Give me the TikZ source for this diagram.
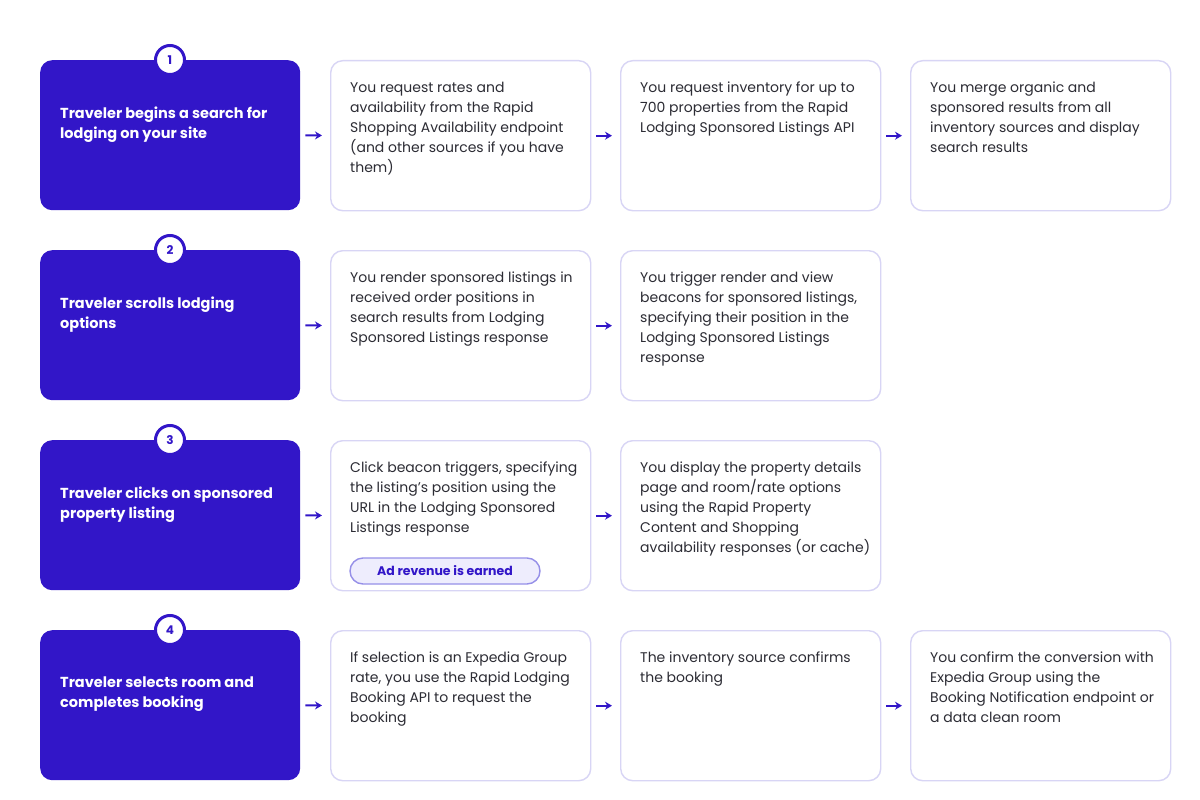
\documentclass[tikz,border=0pt]{standalone}
\usepackage{fontspec}
\setmainfont{Poppins}
\usetikzlibrary{arrows.meta}

\definecolor{indigo}{RGB}{50,22,200}
\definecolor{cardline}{RGB}{216,213,245}
\definecolor{cardink}{RGB}{44,44,52}
\definecolor{pillfill}{RGB}{238,237,253}
\definecolor{pillline}{RGB}{150,144,232}

\tikzstyle{traveler box}=[fill=indigo,rounded corners=12pt,anchor=north west,
    minimum width=260pt,minimum height=150pt,inner sep=0pt]
\tikzstyle{traveler text}=[anchor=north west,align=left,inner sep=0pt,text=white,
    font=\fontsize{14.5}{20}\selectfont\bfseries]
\tikzstyle{action box}=[draw=cardline,line width=1.4pt,fill=white,rounded corners=12pt,
    anchor=north west,minimum width=260pt,minimum height=150pt,inner sep=0pt]
\tikzstyle{action text}=[anchor=north west,align=left,inner sep=0pt,text=cardink,
    font=\fontsize{14}{20}\selectfont]
\tikzstyle{step badge}=[circle,fill=white,draw=indigo,line width=3pt,minimum size=29pt,
    inner sep=0pt,text=indigo,font=\fontsize{12}{12}\selectfont\bfseries]
\tikzstyle{revenue pill}=[draw=pillline,line width=1.4pt,fill=pillfill,rounded corners=13pt,
    minimum width=190pt,minimum height=26pt,inner sep=0pt,text=indigo,
    font=\fontsize{12.5}{14}\selectfont\bfseries]
\tikzstyle{flow}=[-{Stealth[length=7pt,width=8pt]},line width=2pt,color=indigo,
    shorten <=5pt,shorten >=8pt]

\newcommand{\travelercard}[3]{
    \node[traveler box] at (#1) (#2) {};
    \node[traveler text] at ([shift={(20,47)}]#2.north west) {#3};
}
\newcommand{\actioncard}[3]{
    \node[action box] at (#1) (#2) {};
    \node[action text] at ([shift={(20,22)}]#2.north west) {#3};
}

\begin{document}
\begin{tikzpicture}[x=1pt,y=-1pt]
    \useasboundingbox[fill=white] (0,0) rectangle (1200,800);
    %
    \travelercard{40,60}{search}{Traveler begins a search for\\lodging on your site}
    \actioncard{330,60}{rates}{You request rates and\\availability from the Rapid\\Shopping Availability endpoint\\(and other sources if you have\\them)}
    \actioncard{620,60}{inventory}{You request inventory for up to\\700 properties from the Rapid\\Lodging Sponsored Listings API}
    \actioncard{910,60}{merge}{You merge organic and\\sponsored results from all\\inventory sources and display\\search results}
    %
    \travelercard{40,250}{scroll}{Traveler scrolls lodging\\options}
    \actioncard{330,250}{render}{You render sponsored listings in\\received order positions in\\search results from Lodging\\Sponsored Listings response}
    \actioncard{620,250}{beacons}{You trigger render and view\\beacons for sponsored listings,\\specifying their position in the\\Lodging Sponsored Listings\\response}
    %
    \travelercard{40,440}{click}{Traveler clicks on sponsored\\property listing}
    \actioncard{330,440}{clickbeacon}{Click beacon triggers, specifying\\the listing's position using the\\URL in the Lodging Sponsored\\Listings response}
    \actioncard{620,440}{details}{You display the property details\\page and room/rate options\\using the Rapid Property\\Content and Shopping\\availability responses (or cache)}
    \node[revenue pill] (revenue) at (445,571) {Ad revenue is earned};
    %
    \travelercard{40,630}{select}{Traveler selects room and\\completes booking}
    \actioncard{330,630}{booking}{If selection is an Expedia Group\\rate, you use the Rapid Lodging\\Booking API to request the\\booking}
    \actioncard{620,630}{confirm}{The inventory source confirms\\the booking}
    \actioncard{910,630}{conversion}{You confirm the conversion with\\Expedia Group using the\\Booking Notification endpoint or\\a data clean room}
    %
    \foreach \row/\num in {search/1,scroll/2,click/3,select/4}
        \node[step badge] (badge\num) at ([xshift=130pt]\row.north west) {\num};
    %
    \draw[flow] (search) -- (rates);
    \draw[flow] (rates) -- (inventory);
    \draw[flow] (inventory) -- (merge);
    \draw[flow] (scroll) -- (render);
    \draw[flow] (render) -- (beacons);
    \draw[flow] (click) -- (clickbeacon);
    \draw[flow] (clickbeacon) -- (details);
    \draw[flow] (select) -- (booking);
    \draw[flow] (booking) -- (confirm);
    \draw[flow] (confirm) -- (conversion);
\end{tikzpicture}
\end{document}
